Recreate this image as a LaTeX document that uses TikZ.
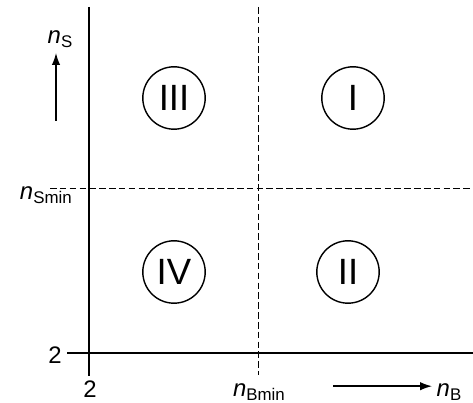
\documentclass[tikz,border=0pt]{standalone}
\usepackage{fontspec}
\setmainfont{Liberation Sans}
\usetikzlibrary{arrows.meta,positioning}
\tikzset{
  region/.style={draw, circle, line width=1pt, minimum size=1.56cm, inner sep=0pt, font=\fontsize{26}{30}\selectfont},
  axislabel/.style={inner sep=0pt, font=\fontsize{17}{20}\selectfont},
  limit/.style={line width=0.7pt, dash pattern=on 4.7pt off 2.3pt}
}
\newcommand{\subvar}[2]{\textit{#1}{\fontsize{12}{14}\selectfont\raisebox{-0.25em}{#2}}}

\begin{document}
\begin{tikzpicture}
      \useasboundingbox (0,0) rectangle (11.825,10.075);
      % axes
      \draw[line width=2.1pt] (2.225,9.9)--(2.225,0.675);
      \draw[line width=2.1pt] (1.675,1.25)--(11.825,1.25);
      % minimum values
      \draw[limit] (6.45,9.9)--(6.45,0.7);
      \draw[limit] (1.25,5.375)--(11.825,5.375);
      % regions
      \node[region] (rIII) at (4.35,7.625) {III};
      \node[region] (rI) at (8.825,7.625) {I};
      \node[region] (rIV) at (4.35,3.275) {IV};
      \node[region] (rII) at (8.7,3.275) {II};
      % labels
      \node[axislabel] (nS) at (1.5,9.1) {\subvar{n}{S}};
      \node[axislabel, anchor=east] (nSmin) at (1.8,5.2) {\subvar{n}{Smin}};
      \node[axislabel] (twoS) at (1.375,1.2) {2};
      \node[axislabel, anchor=south] (twoB) at (2.25,0.12) {2};
      \node[axislabel, anchor=south] (nBmin) at (6.475,0.06) {\subvar{n}{Bmin}};
      \node[axislabel, anchor=south] (nB) at (11.225,0.06) {\subvar{n}{B}};
      \coordinate (upS) at (1.4,7.05);
      \coordinate (upE) at (1.4,8.75);
      \coordinate (rtS) at (8.325,0.42);
      \coordinate (rtE) at (10.8,0.42);
      \draw[-{Latex[length=8.5pt,width=6pt]}, line width=1pt] (upS)--(upE);
      \draw[-{Latex[length=8.5pt,width=6pt]}, line width=1pt] (rtS)--(rtE);
    \end{tikzpicture}
\end{document}
